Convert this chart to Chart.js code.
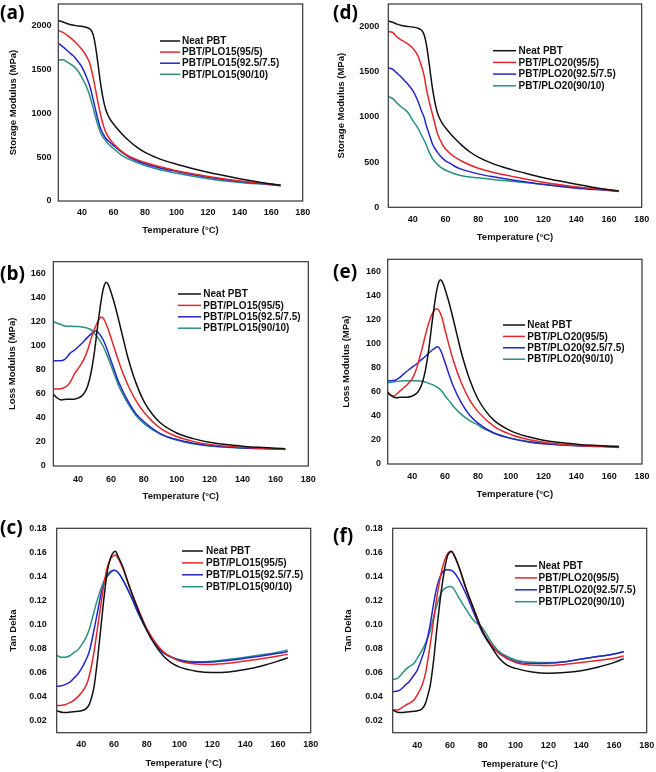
<!DOCTYPE html>
<html><head><meta charset="utf-8">
<script src="https://cdn.jsdelivr.net/npm/chart.js@4.4.1/dist/chart.umd.min.js"></script>
<style>
html,body{margin:0;padding:0;background:#fff;width:656px;height:772px;overflow:hidden;position:relative}
canvas{position:absolute}
</style></head><body>
<canvas id="cA"></canvas><canvas id="cD"></canvas>
<canvas id="cB"></canvas><canvas id="cE"></canvas>
<canvas id="cC"></canvas><canvas id="cF"></canvas>
<script>
// ---------- labels & ticks ----------
const names15 = ['Neat PBT','PBT/PLO15(95/5)','PBT/PLO15(92.5/7.5)','PBT/PLO15(90/10)'];
const names20 = ['Neat PBT','PBT/PLO20(95/5)','PBT/PLO20(92.5/7.5)','PBT/PLO20(90/10)'];
const xTickVals = [40,60,80,100,120,140,160,180];
const storageTicks = [0,500,1000,1500,2000];
const lossTicks = [0,20,40,60,80,100,120,140,160];
const tanTicks = [0.02,0.04,0.06,0.08,0.10,0.12,0.14,0.16,0.18];

// ---------- (a) storage modulus, PLO15 ----------
const tA_neat = [25,28,30,33,36,40,43,45,46,47,48,49,50,51,52,53,54,55,56,58,60,63,66,70,75,80,90,100,110,120,130,140,150,160,166];
const eA_neat = [2062,2045,2030,2012,2003,1995,1983,1965,1945,1905,1830,1720,1590,1450,1320,1210,1120,1050,1000,930,880,815,755,685,612,555,475,420,372,328,290,255,223,195,180];
const tA_r = [25,28,30,33,36,40,43,45,47,48,50,52,54,55,58,60,65,70,80,90,100,120,140,160,166];
const eA_r = [1947,1925,1900,1860,1810,1730,1650,1570,1420,1330,1140,970,840,790,700,655,570,510,440,390,345,280,228,192,178];
const tA_b = [25,28,30,33,35,38,40,43,45,48,50,52,55,58,60,65,70,80,90,100,120,140,160,166];
const eA_b = [1802,1760,1730,1680,1650,1580,1530,1410,1310,1090,940,820,720,665,635,560,500,425,375,338,272,222,190,178];
const tA_t = [25,28,30,33,35,38,40,43,45,48,50,52,55,58,60,65,70,80,90,100,120,140,160,166];
const eA_t = [1611,1612,1595,1560,1535,1470,1410,1300,1200,1000,870,770,690,630,600,525,475,405,355,318,255,212,183,172];

// ---------- (d) storage modulus, PLO20 ----------
const tD_neat = [25,28,30,33,36,40,43,45,46,47,48,49,50,51,52,53,54,55,56,58,60,63,66,70,75,80,90,100,110,120,130,140,150,160,166];
const eD_neat = [2062,2045,2030,2012,2003,1995,1983,1965,1945,1905,1830,1720,1590,1450,1320,1210,1120,1050,1000,930,880,815,755,685,612,555,475,420,372,328,290,255,223,195,180];
const tD_r = [25,27,28,30,33,36,40,43,45,47,48,50,52,53,55,58,60,65,70,80,90,100,120,140,160,166];
const eD_r = [1945,1940,1930,1890,1850,1820,1760,1680,1580,1450,1340,1170,1030,960,820,700,645,565,510,432,383,345,276,226,190,175];
const tD_b = [25,28,30,33,35,38,40,43,45,47,48,50,52,55,58,60,62,65,70,80,90,100,120,140,160,166];
const eD_b = [1543,1525,1490,1440,1400,1340,1290,1180,1080,990,920,810,700,610,545,515,495,460,420,370,335,305,252,212,186,176];
const tD_t = [25,28,30,33,35,37,40,43,45,48,50,52,54,55,58,60,65,70,75,80,90,100,120,140,160,166];
const eD_t = [1225,1200,1160,1110,1085,1050,960,880,810,700,610,540,495,475,430,410,375,350,335,328,305,288,255,222,192,180];

// ---------- (b) loss modulus, PLO15 ----------
const tB_neat = [25,27,30,33,37,40,42,44,46,48,50,52,54,55,56,57,58,59,60,62,65,68,70,75,80,85,90,100,110,120,130,140,150,160,166];
const lB_neat = [59.8,57,55,55.5,55.5,56.5,58,61,67,78,95,117,137,145,150.5,153,152,149,145,136,120,103,92,70,54,43.5,36,27.5,22.8,19.8,17.8,16.5,15.5,14.8,14.3];
const tB_r = [25,28,30,32,34,36,38,40,42,44,46,48,50,52,53,54,55,56,58,60,65,70,75,80,90,100,110,120,140,160,166];
const lB_r = [64,64,64.5,65.5,67.5,71.5,77,81,85,90,97,106,114,120,122.5,124,123.5,121.5,115,107,86,68.5,55,45,31.5,24.5,20.5,18,15.5,14.1,13.8];
const tB_b = [25,28,31,33,35,38,40,43,45,48,50,51,52,54,56,60,65,70,75,80,90,100,110,120,140,160,166];
const lB_b = [87.5,87.5,88,90,93.5,96.5,99,103,106,110,112,112.5,111.5,108,103,88,69,55,44,37,27,22,19,17,15,14.2,13.9];
const tB_t = [25,27,30,32,35,40,43,45,47,49,50,52,55,58,60,65,70,75,80,90,100,110,120,140,160,166];
const lB_t = [120,119,117.5,116.5,116.3,116,115.5,115,114,112,110.5,107,100.5,91,84,66,53,42.5,35.5,26.5,21.6,18.5,16.6,15,14.4,14.1];

// ---------- (e) loss modulus, PLO20 ----------
const tE_neat = [25,27,30,33,37,40,42,44,46,48,50,52,54,55,56,57,58,59,60,62,65,68,70,75,80,85,90,100,110,120,130,140,150,160,166];
const lE_neat = [59.8,57,55,55.5,55.5,56.5,58,61,67,78,95,117,137,145,150.5,153,152,149,145,136,120,103,92,70,54,43.5,36,27.5,22.8,19.8,17.8,16.5,15.5,14.8,14.3];
const tE_r = [25,27,29,30,32,35,38,40,42,44,46,48,50,52,54,55,56,58,60,65,70,75,80,90,100,110,120,140,160,166];
const lE_r = [58.6,57,56.5,57.5,60,63.5,67.5,71,77,86,96,107,117,124.5,128.5,129,128,122,111,86,67,53,43.5,31,24.5,20.5,18,15.3,14.2,13.8];
const tE_b = [25,28,30,32,35,38,40,43,45,48,50,52,54,55,56,57,58,60,65,70,75,80,90,100,110,120,140,160,166];
const lE_b = [69,69.3,69.8,71.5,75,78.5,80.5,83.5,86,89.5,92,94.5,96.5,97.3,97,95,92,84,64.5,50.5,40.5,34,25.5,21.3,18.5,16.8,15.2,14.6,14.5];
const tE_t = [25,28,30,35,40,45,48,50,53,55,58,60,63,65,70,75,78,80,82,85,90,100,110,120,140,160,166];
const lE_t = [67.5,68,68.5,69.2,69.2,69,68,67,65.5,64,60.5,56.5,51.5,48,41,36,33.8,32.5,30.5,28.3,25.5,21.3,18.8,17,15.3,14.6,14.5];

// ---------- (c) tan delta, PLO15 ----------
const tC_neat = [25,28,30,35,40,43,45,47,48,50,52,54,56,58,60,61,62,65,70,75,80,85,90,95,100,110,120,130,140,150,160,166];
const dC_neat = [0.0283,0.027,0.0267,0.0275,0.0283,0.030,0.034,0.043,0.050,0.072,0.098,0.124,0.145,0.156,0.1605,0.161,0.158,0.149,0.129,0.111,0.095,0.083,0.074,0.068,0.0645,0.0612,0.0600,0.0605,0.0625,0.0655,0.0695,0.0723];
const tC_r = [25,28,30,33,35,38,40,42,44,46,48,50,52,54,56,58,60,61,62,65,70,75,80,85,90,100,110,120,130,140,150,160,166];
const dC_r = [0.0325,0.0328,0.0333,0.035,0.0365,0.040,0.043,0.047,0.053,0.064,0.079,0.098,0.117,0.135,0.148,0.155,0.1575,0.1578,0.156,0.148,0.129,0.112,0.0965,0.0855,0.0775,0.0695,0.0672,0.0668,0.0678,0.0697,0.0716,0.0738,0.0752];
const tC_b = [25,28,30,33,35,38,40,43,45,48,50,52,55,58,60,62,65,70,75,80,85,90,100,110,120,130,140,150,160,166];
const dC_b = [0.0486,0.049,0.050,0.052,0.0547,0.059,0.063,0.071,0.078,0.097,0.111,0.125,0.138,0.1435,0.1452,0.1438,0.138,0.1245,0.109,0.0955,0.0845,0.0765,0.0703,0.0685,0.0688,0.070,0.072,0.0738,0.076,0.0775];
const tC_t = [25,28,30,33,35,38,40,43,45,48,50,52,55,58,60,62,65,70,75,80,85,90,100,110,120,130,140,150,160,166];
const dC_t = [0.0742,0.0728,0.0728,0.074,0.0762,0.079,0.0826,0.0895,0.0965,0.1118,0.1215,0.1298,0.1396,0.1443,0.1452,0.1438,0.1382,0.1243,0.1084,0.0951,0.084,0.077,0.0706,0.069,0.0695,0.071,0.0728,0.0748,0.077,0.0789];

// ---------- (f) tan delta, PLO20 ----------
const tF_neat = [25,28,30,35,40,43,45,47,48,50,52,55,58,60,61,62,65,70,75,80,85,90,95,100,110,120,130,140,150,160,166];
const dF_neat = [0.0289,0.027,0.0267,0.0275,0.0283,0.030,0.0344,0.044,0.050,0.0705,0.097,0.1315,0.155,0.1606,0.161,0.1587,0.1495,0.1287,0.111,0.094,0.082,0.0719,0.066,0.0635,0.0605,0.0594,0.060,0.0616,0.0645,0.0683,0.0716];
const tF_r = [25,28,30,33,35,38,40,43,45,48,50,52,55,58,60,62,65,70,75,80,85,90,100,110,120,130,140,150,160,166];
const dF_r = [0.0289,0.0289,0.0303,0.033,0.0344,0.0372,0.0414,0.0497,0.0594,0.0843,0.1037,0.1232,0.1453,0.1578,0.1606,0.1592,0.1495,0.1293,0.111,0.094,0.0835,0.076,0.0683,0.0662,0.0658,0.0668,0.0683,0.070,0.0719,0.0738];
const tF_b = [25,28,30,33,35,38,40,43,45,48,50,52,55,58,60,62,65,70,75,80,85,90,100,110,120,130,140,150,160,166];
const dF_b = [0.0441,0.0447,0.0461,0.050,0.0524,0.058,0.0621,0.073,0.0816,0.101,0.1176,0.1315,0.1426,0.1455,0.1453,0.144,0.1384,0.1245,0.108,0.0926,0.0825,0.076,0.0691,0.0675,0.0677,0.069,0.0713,0.0733,0.0755,0.0774];
const tF_t = [25,28,30,33,35,38,40,43,45,48,50,52,55,58,60,62,65,70,75,78,80,85,90,100,110,120,130,140,150,160,166];
const dF_t = [0.0544,0.0552,0.058,0.0627,0.0649,0.0677,0.0719,0.0788,0.0843,0.0954,0.1065,0.1162,0.1273,0.1309,0.1315,0.1301,0.1232,0.1121,0.1024,0.0996,0.0968,0.0857,0.0774,0.0705,0.0685,0.0683,0.069,0.0713,0.0733,0.0755,0.0774];

// ---------- styling / layout ----------
const colors = ['#111111','#e3262b','#2626c8','#2a9080'];
const FONT = "'Liberation Sans', Arial, sans-serif";
Chart.defaults.font.family = FONT;

const panels = [
  {id:'cA', tag:'(a)', tagPos:[0,19], rect:[0,0,325,248], plot:[58.3,4,302.7,201], yMin:0, yMax:2250, yTicks:storageTicks, dec:0,
   yTitle:'Storage Modulus (MPa)', yGap:6.7, xTickY:212.3, xTitleY:230, yTitleX:13.3,
   leg:{x0:160,x1:180,tx:182,y:41,dy:11.1}, names:names15,
   series:[[tA_neat,eA_neat],[tA_r,eA_r],[tA_b,eA_b],[tA_t,eA_t]]},
  {id:'cD', tag:'(d)', tagPos:[333,19], rect:[328,0,328,248], plot:[388.3,4,641.7,207.3], yMin:0, yMax:2250, yTicks:storageTicks, dec:0,
   yTitle:'Storage Modulus (MPa)', yGap:9, xTickY:220, xTitleY:237.7, yTitleX:341,
   leg:{x0:493,x1:516,tx:518.5,y:50.7,dy:11.7}, names:names20,
   series:[[tD_neat,eD_neat],[tD_r,eD_r],[tD_b,eD_b],[tD_t,eD_t]]},
  {id:'cB', tag:'(b)', tagPos:[0,280], rect:[0,250,325,258], plot:[53.3,261.7,308.3,466], yMin:0, yMax:170, yTicks:lossTicks, dec:0,
   yTitle:'Loss Modulus (MPa)', yGap:7.6, xTickY:479.3, xTitleY:496.7, yTitleX:12.7,
   leg:{x0:178,x1:201,tx:203.3,y:294,dy:11.4}, names:names15,
   series:[[tB_neat,lB_neat],[tB_r,lB_r],[tB_b,lB_b],[tB_t,lB_t]]},
  {id:'cE', tag:'(e)', tagPos:[333,278.3], rect:[328,250,328,258], plot:[387.7,259.3,642,464], yMin:0, yMax:170, yTicks:lossTicks, dec:0,
   yTitle:'Loss Modulus (MPa)', yGap:6.7, xTickY:476.7, xTitleY:494.3, yTitleX:346.7,
   leg:{x0:503,x1:525,tx:527.3,y:325,dy:11.4}, names:names20,
   series:[[tE_neat,lE_neat],[tE_r,lE_r],[tE_b,lE_b],[tE_t,lE_t]]},
  {id:'cC', tag:'(c)', tagPos:[0,534.3], rect:[0,512,325,260], plot:[56.7,528.3,310.7,732.7], yMin:0.01, yMax:0.18, yTicks:tanTicks, dec:2,
   yTitle:'Tan Delta', yGap:10, xTickY:744.3, xTitleY:763.3, yTitleX:13.3,
   leg:{x0:182,x1:203,tx:206,y:551,dy:11.9}, names:names15,
   series:[[tC_neat,dC_neat],[tC_r,dC_r],[tC_b,dC_b],[tC_t,dC_t]]},
  {id:'cF', tag:'(f)', tagPos:[333,541.7], rect:[328,512,328,260], plot:[392.7,528.3,646.7,732.7], yMin:0.01, yMax:0.18, yTicks:tanTicks, dec:2,
   yTitle:'Tan Delta', yGap:10, xTickY:746, xTitleY:764, yTitleX:348.7,
   leg:{x0:515,x1:537,tx:538.5,y:566,dy:11.9}, names:names20,
   series:[[tF_neat,dF_neat],[tF_r,dF_r],[tF_b,dF_b],[tF_t,dF_t]]}
];

function makeChart(p) {
  const [cx,cy,cw,ch] = p.rect;
  const [L,T,R,B] = p.plot;
  const cv = document.getElementById(p.id);
  cv.width = cw; cv.height = ch;
  cv.style.left = cx+'px'; cv.style.top = cy+'px';
  cv.style.width = cw+'px'; cv.style.height = ch+'px';
  const tickSize = 9, titleSize = 9.5;
  const tlh = tickSize*1.2, ttl = titleSize*1.2;

  const deco = {
    id:'deco',
    afterDatasetsDraw(chart) {
      const {ctx, chartArea:a} = chart;
      ctx.save();
      ctx.strokeStyle = '#333'; ctx.lineWidth = 1.2;
      ctx.strokeRect(a.left, a.top, a.right-a.left, a.bottom-a.top);
      ctx.font = "bold 10px " + FONT;
      ctx.textBaseline = 'middle'; ctx.textAlign = 'left';
      p.names.forEach((n,i) => {
        const y = p.leg.y + i*p.leg.dy - cy;
        ctx.strokeStyle = colors[i]; ctx.lineWidth = 1.5;
        ctx.beginPath(); ctx.moveTo(p.leg.x0-cx, y); ctx.lineTo(p.leg.x1-cx, y); ctx.stroke();
        ctx.fillStyle = '#111';
        ctx.fillText(n, p.leg.tx-cx, y+0.5);
      });
      ctx.font = "bold 19px 'Open Sans', sans-serif";
      ctx.textBaseline = 'alphabetic'; ctx.fillStyle = '#000';
      ctx.fillText(p.tag, p.tagPos[0]-cx, p.tagPos[1]-cy);
      ctx.restore();
    }
  };

  return new Chart(cv, {
    type:'line',
    data:{datasets: p.series.map((s,i) => ({
      label:p.names[i],
      data:s[0].map((t,j) => ({x:t, y:s[1][j]})),
      borderColor:colors[i], backgroundColor:colors[i],
      borderWidth:1.5, pointRadius:0, fill:false,
      cubicInterpolationMode:'monotone'
    }))},
    options:{
      responsive:false, animation:false, devicePixelRatio:1,
      layout:{autoPadding:false, padding:{left:0, top:T-cy, right:cx+cw-R, bottom:0}},
      plugins:{legend:{display:false}, tooltip:{enabled:false}},
      scales:{
        x:{type:'linear', min:25, max:180,
          grid:{display:false, drawTicks:false, tickLength:0}, border:{display:false},
          ticks:{padding:p.xTickY-B-tlh/2, font:{size:tickSize, weight:'bold'}, color:'#111',
                 maxRotation:0, autoSkip:false, callback:v => String(v)},
          title:{display:true, text:'Temperature (°C)', font:{size:titleSize, weight:'bold'}, color:'#111',
                 padding:{top:0, bottom:cy+ch-p.xTitleY-ttl/2}},
          afterBuildTicks:s => { s.ticks = xTickVals.map(v => ({value:v})); },
          afterFit:s => { s.height = cy+ch-B; s.paddingLeft = 0; s.paddingRight = 0; s.paddingTop = 0; s.paddingBottom = 0; }
        },
        y:{type:'linear', min:p.yMin, max:p.yMax,
          grid:{display:false, drawTicks:false, tickLength:0}, border:{display:false},
          ticks:{padding:p.yGap, font:{size:tickSize, weight:'bold'}, color:'#111',
                 autoSkip:false, callback:v => Number(v).toFixed(p.dec)},
          title:{display:true, text:p.yTitle, font:{size:titleSize, weight:'bold'}, color:'#111',
                 padding:{top:p.yTitleX-cx-ttl/2, bottom:0}},
          afterBuildTicks:s => { s.ticks = p.yTicks.map(v => ({value:v})); },
          afterFit:s => { s.width = L-cx; s.paddingTop = 0; s.paddingBottom = 0; s.paddingLeft = 0; s.paddingRight = 0; }
        }
      }
    },
    plugins:[deco]
  });
}
panels.forEach(makeChart);
</script>
</body></html>
